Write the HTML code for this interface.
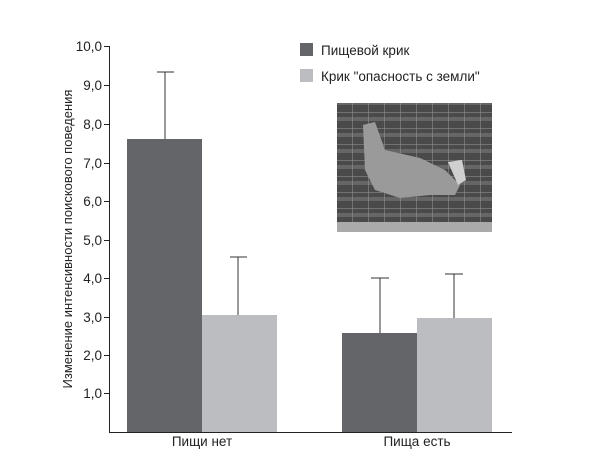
<!DOCTYPE html>
<html><head><meta charset="utf-8"><style>
body{margin:0;background:#fff}
svg{display:block}
text{font-family:"Liberation Sans",sans-serif;fill:#222}
</style></head><body>
<svg width="600" height="457" xmlns="http://www.w3.org/2000/svg">
<defs>
<pattern id="g" width="16" height="16" patternUnits="userSpaceOnUse">
<rect width="16" height="16" fill="#4a4a4a"/>
<rect y="5" width="16" height="4" fill="#666"/>
<line x1="0" y1="0" x2="16" y2="0" stroke="#999" stroke-width="1"/>
<line x1="0" y1="0" x2="0" y2="16" stroke="#999" stroke-width="1"/>
</pattern>
</defs>
<g stroke="#333" stroke-width="1" fill="none">
<line x1="165" y1="139" x2="165" y2="72"/><line x1="157" y1="72" x2="174" y2="72"/>
<line x1="238" y1="315" x2="238" y2="257"/><line x1="230" y1="257" x2="247" y2="257"/>
<line x1="380" y1="333" x2="380" y2="278"/><line x1="371" y1="278" x2="389" y2="278"/>
<line x1="454" y1="318" x2="454" y2="274"/><line x1="445" y1="274" x2="463" y2="274"/>
</g>
<rect x="127" y="139" width="75" height="293" fill="#646569"/>
<rect x="202" y="315" width="75" height="117" fill="#bcbdc0"/>
<rect x="342" y="333" width="75" height="99" fill="#646569"/>
<rect x="417" y="318" width="75" height="114" fill="#bcbdc0"/>
<g stroke="#222" stroke-width="1">
<line x1="109.5" y1="46" x2="109.5" y2="432"/>
<line x1="109" y1="432.5" x2="512" y2="432.5"/>
<line x1="104" y1="46.5" x2="109" y2="46.5"/>
<line x1="104" y1="85.5" x2="109" y2="85.5"/>
<line x1="104" y1="124.5" x2="109" y2="124.5"/>
<line x1="104" y1="163.5" x2="109" y2="163.5"/>
<line x1="104" y1="201.5" x2="109" y2="201.5"/>
<line x1="104" y1="240.5" x2="109" y2="240.5"/>
<line x1="104" y1="278.5" x2="109" y2="278.5"/>
<line x1="104" y1="317.5" x2="109" y2="317.5"/>
<line x1="104" y1="355.5" x2="109" y2="355.5"/>
<line x1="104" y1="393.5" x2="109" y2="393.5"/>
</g>
<g font-size="13.5" text-anchor="end">
<text x="102" y="51">10,0</text>
<text x="102" y="90">9,0</text>
<text x="102" y="129">8,0</text>
<text x="102" y="168">7,0</text>
<text x="102" y="206">6,0</text>
<text x="102" y="245">5,0</text>
<text x="102" y="283">4,0</text>
<text x="102" y="322">3,0</text>
<text x="102" y="360">2,0</text>
<text x="102" y="398">1,0</text>
</g>
<text transform="translate(72,239) rotate(-90)" font-size="13" text-anchor="middle">Изменение интенсивности поискового поведения</text>
<text x="202" y="446" font-size="13.5" text-anchor="middle">Пищи нет</text>
<text x="417" y="446" font-size="13.5" text-anchor="middle">Пища есть</text>
<rect x="300" y="43" width="13" height="13" fill="#646569"/>
<rect x="300" y="69" width="13" height="13" fill="#bcbdc0"/>
<text x="321" y="55" font-size="13.5">Пищевой крик</text>
<text x="321" y="81" font-size="13.5">Крик "опасность с земли"</text>
<rect x="337" y="103" width="155" height="129" fill="url(#g)"/>
<path d="M363 125 L375 122 L385 150 L420 158 L445 170 L460 185 L455 195 L430 195 L400 198 L375 190 L365 170 Z" fill="#9a9a9a"/>
<path d="M448 162 L462 160 L466 180 L458 185 Z" fill="#d0d0d0"/>
<rect x="337" y="222" width="155" height="10" fill="#aaa"/>
</svg>
</body></html>
